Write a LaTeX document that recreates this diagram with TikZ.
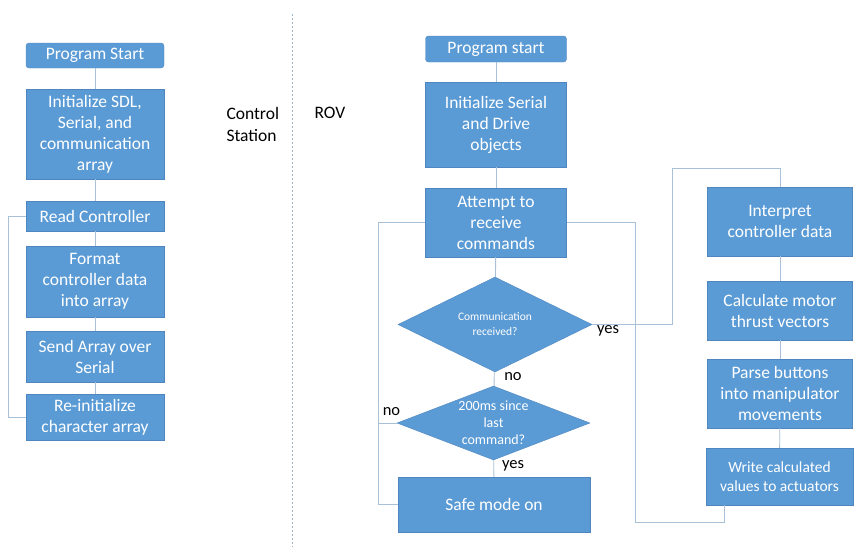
\documentclass[tikz,border=0pt]{standalone}
\usepackage{fontspec}
\setmainfont{Carlito}
\usetikzlibrary{shapes.geometric}
\definecolor{boxblue}{HTML}{5B9BD5}
\definecolor{boxedge}{HTML}{4F86BF}
\definecolor{linkcol}{HTML}{A9C1D8}
\definecolor{sidecol}{HTML}{9DB4CB}
\begin{document}
\begin{tikzpicture}[x=1pt,y=-1pt,
	box/.style={draw=boxedge,fill=boxblue,text=white,align=center,inner sep=0pt,
		font=\fontsize{17.5}{21}\selectfont},
	startbox/.style={box,rounded corners=3pt},
	dia/.style={draw=boxedge,fill=boxblue,text=white,align=center,shape=diamond,inner sep=0pt},
	link/.style={draw=linkcol,line width=0.9pt},
	lbl/.style={font=\fontsize{16.5}{19}\selectfont}]
\useasboundingbox (0,0) rectangle (854,550);
%control station
\path (95,55.5) node[startbox,minimum width=138,minimum height=25] (cstart) {Program Start};
\path (95,134) node[box,minimum width=138,minimum height=90] (cinit) {Initialize SDL,\\Serial, and\\communication\\array};
\path (95,216) node[box,minimum width=138,minimum height=30] (cread) {Read Controller};
\path (95,281.5) node[box,minimum width=138,minimum height=71] (cformat) {Format\\controller data\\into array};
\path (95,356.5) node[box,minimum width=138,minimum height=51] (csend) {Send Array over\\Serial};
\path (95,417) node[box,minimum width=138,minimum height=46] (creinit) {Re-initialize\\character array};
\draw[link] (cstart) -- (cinit);
\draw[link] (cinit) -- (cread);
\draw[link] (cread) -- (cformat);
\draw[link] (cformat) -- (csend);
\draw[link] (csend) -- (creinit);
\draw[link] (creinit.west) -- ++(-17,0) |- (cread.west);
%divider
\path (223,124) node[anchor=west,align=left,font=\fontsize{17.5}{22}\selectfont] (cside) {Control\\Station};
\path (311,113) node[anchor=west,font=\fontsize{17.5}{22}\selectfont] (rside) {ROV};
\draw[sidecol,dash pattern=on 2pt off 2pt] (292,14) -- (292,547);
%rov
\path (496,49) node[startbox,minimum width=141,minimum height=26] (rstart) {Program start};
\path (496,124.5) node[box,minimum width=141,minimum height=85] (rinit) {Initialize Serial\\and Drive\\objects};
\path (496,222.5) node[box,minimum width=141,minimum height=69] (attempt) {Attempt to\\receive\\commands};
\path (495,324.5) node[dia,aspect=2.04,minimum width=194,minimum height=95,
	font=\fontsize{11.5}{15}\selectfont] (comm) {Communication\\received?};
\path (493.5,423) node[dia,aspect=2.6,minimum width=193,minimum height=74,
	font=\fontsize{14}{17}\selectfont] (wait) {200ms since\\last\\command?};
\path (494,504.5) node[box,minimum width=192,minimum height=55] (safe) {Safe mode on};
\draw[link] (rstart) -- (rinit);
\draw[link] (rinit) -- (attempt);
\draw[link] (attempt) -- (comm);
\draw[link] (comm) -- (wait);
\draw[link] (wait) -- (safe);
\draw[link] (attempt.west) -- ++(-47,0) |- (safe.west);
\draw[link] (wait.west) -- ++(-19,0);
\path (513,377) node[lbl] (nocomm) {no};
\path (391.5,411.5) node[lbl] (nowait) {no};
\path (513,466) node[lbl] (yeswait) {yes};
\path (608,331) node[lbl] (yescomm) {yes};
%actuation
\path (780,221.5) node[box,minimum width=145,minimum height=69] (interp) {Interpret\\controller data};
\path (780,310.5) node[box,minimum width=145,minimum height=59] (motor) {Calculate motor\\thrust vectors};
\path (780,393.5) node[box,minimum width=145,minimum height=69] (parse) {Parse buttons\\into manipulator\\movements};
\path (779.5,476.5) node[box,minimum width=147,minimum height=57,
	font=\fontsize{15.5}{19}\selectfont] (write) {Write calculated\\values to actuators};
\draw[link] (interp) -- (motor);
\draw[link] (motor) -- (parse);
\draw[link] (parse) -- (write);
\draw[link] (comm.east) -- ++(80,0) |- ([yshift=18pt]interp.north) -- (interp.north);
\draw[link] (attempt.east) -| (635,522) -| ([xshift=19pt]write.south west);
\end{tikzpicture}
\end{document}
